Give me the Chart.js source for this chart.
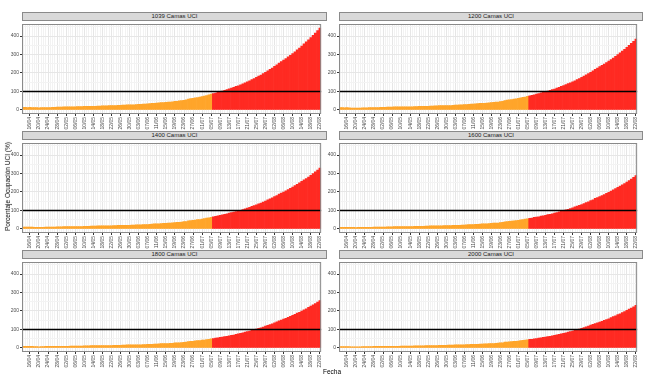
<!DOCTYPE html>
<html><head><meta charset="utf-8">
<script src="https://cdn.jsdelivr.net/npm/chart.js@4.4.1/dist/chart.umd.min.js"></script>
<style>
html,body{margin:0;padding:0;background:#fff;}
#fig{position:relative;width:652px;height:382px;overflow:hidden;font-family:"Liberation Sans",Arial,sans-serif;}
.strip{position:absolute;box-sizing:border-box;background:#d9d9d9;border:1px solid #8a8a8a;font-size:6px;line-height:6px;color:#1a1a1a;text-align:center;white-space:nowrap;}
.cv{position:absolute;}
.lab{position:absolute;font-size:6.5px;line-height:7px;color:#000;white-space:nowrap;}
</style></head><body><div id="fig"></div>
<script>
// ---- DATA ----
const fechas = [
'13/04','14/04','15/04','16/04','17/04','18/04','19/04','20/04','21/04','22/04','23/04','24/04','25/04','26/04','27/04','28/04','29/04','30/04',
'01/05','02/05','03/05','04/05','05/05','06/05','07/05','08/05','09/05','10/05','11/05','12/05','13/05','14/05','15/05','16/05','17/05','18/05','19/05','20/05','21/05','22/05','23/05','24/05','25/05','26/05','27/05','28/05','29/05','30/05','31/05',
'01/06','02/06','03/06','04/06','05/06','06/06','07/06','08/06','09/06','10/06','11/06','12/06','13/06','14/06','15/06','16/06','17/06','18/06','19/06','20/06','21/06','22/06','23/06','24/06','25/06','26/06','27/06','28/06','29/06','30/06',
'01/07','02/07','03/07','04/07','05/07','06/07','07/07','08/07','09/07','10/07','11/07','12/07','13/07','14/07','15/07','16/07','17/07','18/07','19/07','20/07','21/07','22/07','23/07','24/07','25/07','26/07','27/07','28/07','29/07','30/07','31/07',
'01/08','02/08','03/08','04/08','05/08','06/08','07/08','08/08','09/08','10/08','11/08','12/08','13/08','14/08','15/08','16/08','17/08','18/08','19/08','20/08','21/08','22/08'
];
const etiquetasFecha = ['16/04','20/04','24/04','28/04','02/05','06/05','10/05','14/05','18/05','22/05','26/05','30/05','03/06','07/06','11/06','15/06','19/06','23/06','27/06','01/07','05/07','09/07','13/07','17/07','21/07','25/07','29/07','02/08','06/08','10/08','14/08','18/08','22/08'];
const inicioProyeccion = '06/07';
const paneles = ['1039 Camas UCI','1200 Camas UCI','1400 Camas UCI','1600 Camas UCI','1800 Camas UCI','2000 Camas UCI'];
const ocupacion1039 = [14,14,13,14,13,12,12,11,12,12,13,13,13,14,14,15,15,15,16,16,16,17,17,17,18,18,18,19,19,19,20,20,20,21,21,22,22,22,23,23,24,24,25,25,26,26,27,27,28,28,29,30,30,31,32,33,34,35,36,37,38,39,40,41,42,43,44,46,47,49,50,52,54,59,61,63,65,67,69,72,75,78,81,85,
88,91,95,98,102,106,110,114,118,122,127,131,136,141,147,152,158,164,170,176,183,189,196,204,211,219,227,236,244,254,262,270,278,287,296,305,315,325,335,346,357,368,379,391,404,416,429,443];
const ocupacion1200 = [12,12,11,12,11,10,10,10,10,10,11,11,11,12,12,13,13,13,14,14,14,15,15,15,16,16,16,16,16,16,17,17,17,18,18,19,19,19,20,20,21,21,22,22,23,23,23,23,24,24,25,26,26,27,28,29,29,30,31,32,33,34,35,35,36,37,38,40,41,42,43,45,47,51,53,55,56,58,60,62,65,68,70,74,
76,79,82,85,88,92,95,99,102,106,110,113,118,122,127,132,137,142,147,152,158,164,170,177,183,190,197,204,211,220,227,234,241,248,256,264,273,281,290,300,309,319,328,339,350,360,371,384];
const ocupacion1400 = [10,10,10,10,10,9,9,8,9,9,10,10,10,10,10,11,11,11,12,12,12,13,13,13,13,13,13,14,14,14,15,15,15,16,16,16,16,16,17,17,18,18,19,19,19,19,20,20,21,21,22,22,22,23,24,24,25,26,27,27,28,29,30,30,31,32,33,34,35,36,37,39,40,44,45,47,48,50,51,53,56,58,60,63,
65,68,71,73,76,79,82,85,88,91,94,97,101,105,109,113,117,122,126,131,136,140,145,151,157,163,168,175,181,189,194,200,206,213,220,226,234,241,249,257,265,273,281,290,300,309,318,329];
const ocupacion1600 = [9,9,8,9,8,8,8,7,8,8,8,8,8,9,9,10,10,10,10,10,10,11,11,11,12,12,12,12,12,12,13,13,13,14,14,14,14,14,15,15,16,16,16,16,17,17,18,18,18,18,19,19,19,20,21,21,22,23,23,24,25,25,26,27,27,28,29,30,31,32,32,34,35,38,40,41,42,44,45,47,49,51,53,55,
57,59,62,64,66,69,71,74,77,79,82,85,88,92,95,99,103,106,110,114,119,123,127,132,137,142,147,153,158,165,170,175,181,186,192,198,205,211,218,225,232,239,246,254,262,270,279,288];
const ocupacion1800 = [8,8,8,8,8,7,7,6,7,7,8,8,8,8,8,9,9,9,9,9,9,10,10,10,10,10,10,11,11,11,12,12,12,12,12,13,13,13,13,13,14,14,14,14,15,15,16,16,16,16,17,17,17,18,18,19,20,20,21,21,22,23,23,24,24,25,25,27,27,28,29,30,31,34,35,36,38,39,40,42,43,45,47,49,
51,53,55,57,59,61,63,66,68,70,73,76,79,81,85,88,91,95,98,102,106,109,113,118,122,126,131,136,141,147,151,156,160,166,171,176,182,188,193,200,206,212,219,226,233,240,248,256];
const ocupacion2000 = [7,7,7,7,7,6,6,6,6,6,7,7,7,7,7,8,8,8,8,8,8,9,9,9,9,9,9,10,10,10,10,10,10,11,11,11,11,11,12,12,12,12,13,13,14,14,14,14,15,15,15,16,16,16,17,17,18,18,19,19,20,20,21,21,22,22,23,24,24,25,26,27,28,31,32,33,34,35,36,37,39,41,42,44,
46,47,49,51,53,55,57,59,61,63,66,68,71,73,76,79,82,85,88,91,95,98,102,106,110,114,118,123,127,132,136,140,144,149,154,158,164,169,174,180,185,191,197,203,210,216,223,230];
const series = [ocupacion1039, ocupacion1200, ocupacion1400, ocupacion1600, ocupacion1800, ocupacion2000];
const umbral = 100;
const yTicks = [0,100,200,300,400];
const yMinor = [50,150,250,350,450];

// ---- LAYOUT ----
const fig = document.getElementById('fig');
const plotX = [[22,326],[339,642]];
const plotY = [[20,114],[139,233],[258,352]];
const stripH = 8;
const xAxisH = 18;
const naranja = '#FFA52A', rojo = '#FF2A22';
const idxProy = fechas.indexOf(inicioProyeccion);
const etiquetasSet = new Set(etiquetasFecha);

const extras = {
  id:'extras',
  afterDatasetsDraw(chart){
    const {ctx, chartArea:a, scales:{y}} = chart;
    const py = Math.round(y.getPixelForValue(umbral))+0.5;
    ctx.save();
    ctx.strokeStyle='#000'; ctx.lineWidth=1.4;
    ctx.beginPath(); ctx.moveTo(a.left,py); ctx.lineTo(a.right,py); ctx.stroke();
    ctx.strokeStyle='#8a8a8a'; ctx.lineWidth=1;
    ctx.strokeRect(a.left+0.5,a.top+0.5,a.width-1,a.height-1);
    ctx.restore();
  }
};

paneles.forEach((titulo,i)=>{
  const col = i%2, row = Math.floor(i/2);
  const left = col ? 319 : 0;
  const yAxisW = plotX[col][0]-left;
  const w = plotX[col][1]-left+1;
  const top = plotY[row][0];
  const h = plotY[row][1]-top+xAxisH;
  const s = document.createElement('div');
  s.className='strip';
  s.style.left=plotX[col][0]+'px'; s.style.top=(top-stripH)+'px';
  s.style.width=(plotX[col][1]-plotX[col][0]+1)+'px'; s.style.height=(stripH+1)+'px';
  s.textContent=titulo;
  fig.appendChild(s);
  const c = document.createElement('canvas');
  c.className='cv'; c.width=w; c.height=h;
  c.style.left=left+'px'; c.style.top=top+'px'; c.style.width=w+'px'; c.style.height=h+'px';
  fig.appendChild(c);
  new Chart(c,{
    type:'bar',
    data:{labels:fechas,datasets:[{data:series[i],
      backgroundColor:ctx=>ctx.dataIndex>=idxProy?rojo:naranja,
      borderWidth:0,barPercentage:1,categoryPercentage:1}]},
    options:{
      responsive:false,animation:false,devicePixelRatio:1,
      layout:{padding:{left:0,right:1,top:0,bottom:0},autoPadding:false},
      plugins:{legend:{display:false},tooltip:{enabled:false},title:{display:false}},
      scales:{
        x:{type:'category',offset:true,
          grid:{offset:false,drawTicks:true,tickLength:2,lineWidth:1,
            color:ctx=>(ctx.tick&&etiquetasSet.has(fechas[ctx.index]))?'#e6e6e6':'#f2f2f2',
            tickColor:ctx=>(ctx.tick&&etiquetasSet.has(fechas[ctx.index]))?'#333':'rgba(0,0,0,0)'},
          border:{display:false},
          ticks:{autoSkip:false,maxRotation:90,minRotation:90,padding:1,color:'#4d4d4d',
            font:{size:5,family:'"Liberation Sans",Arial,sans-serif'},
            callback:(v,idx)=>etiquetasSet.has(fechas[idx])?fechas[idx]:''},
          afterFit:sc=>{sc.height=xAxisH;}},
        y:{type:'linear',min:-22.15,max:465,
          afterBuildTicks:sc=>{sc.ticks=[...yTicks,...yMinor].sort((a,b)=>a-b).map(v=>({value:v}));},
          grid:{drawTicks:true,tickLength:2,lineWidth:1,
            color:ctx=>(ctx.tick&&yTicks.includes(ctx.tick.value))?'#e6e6e6':'#f3f3f3',
            tickColor:ctx=>(ctx.tick&&yTicks.includes(ctx.tick.value))?'#333':'rgba(0,0,0,0)'},
          border:{display:false},
          ticks:{padding:1,color:'#4d4d4d',font:{size:5,family:'"Liberation Sans",Arial,sans-serif'},
            callback:v=>yTicks.includes(v)?String(v):''},
          afterFit:sc=>{sc.width=yAxisW;}}
      }
    },
    plugins:[extras]
  });
});

const yl = document.createElement('div');
yl.className='lab'; yl.textContent='Porcentaje Ocupación UCI (%)';
fig.appendChild(yl);
yl.style.left=(7-yl.offsetWidth/2)+'px'; yl.style.top=(186-yl.offsetHeight/2)+'px';
yl.style.transform='rotate(-90deg)';
const xl = document.createElement('div');
xl.className='lab'; xl.textContent='Fecha';
fig.appendChild(xl);
xl.style.left=(332-xl.offsetWidth/2)+'px'; xl.style.top=(371-xl.offsetHeight/2)+'px';
</script></body></html>
